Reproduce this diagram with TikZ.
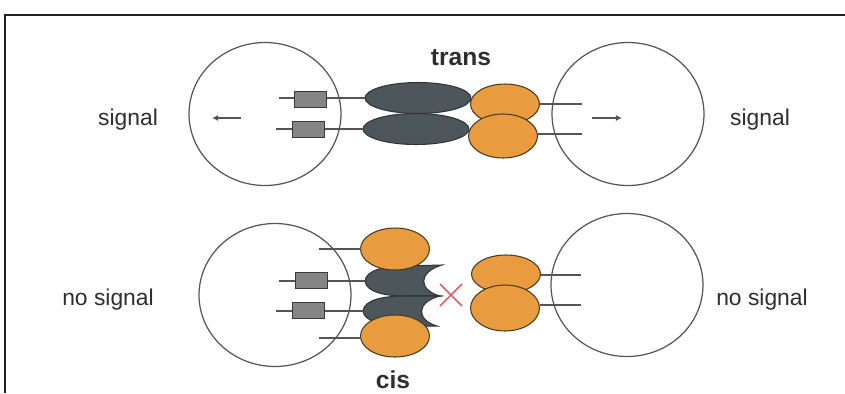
\documentclass[tikz,border=0pt]{standalone}
\usepackage{fontspec}
\setmainfont{Liberation Sans}
\usetikzlibrary{shapes.geometric, arrows.meta}

\begin{document}
\begin{tikzpicture}[
  x=0.02cm, y=-0.02cm,
  every node/.style={inner sep=0pt, outer sep=0pt},
  cell/.style={ellipse, draw=CellLine, line width=0.7pt, minimum width=3.04cm, minimum height=2.86cm},
  tail/.style={draw=TailLine, line width=0.7pt},
  kinase/.style={rectangle, draw=BoxLine, fill=BoxFill, line width=0.5pt, minimum width=0.64cm, minimum height=0.32cm},
  receptor/.style={ellipse, draw=RecLine, fill=RecFill, line width=0.6pt, minimum width=2.12cm, minimum height=0.62cm},
  cisrec/.style={draw=RecLine, fill=RecFill, line width=0.6pt},
  ligand/.style={ellipse, draw=LigLine, fill=LigFill, line width=0.6pt, minimum width=1.38cm},
  sigarrow/.style={draw=TailLine, line width=0.8pt, -{Latex[length=3.5pt, width=3.5pt]}},
  block/.style={draw=StopRed, line width=0.9pt},
  sigtext/.style={text=TextGray, font=\fontsize{13}{15}\selectfont},
  modetext/.style={text=TextGray, font=\fontsize{14}{16}\selectfont\bfseries},
]

% ── colors ──
\definecolor{CellLine}{HTML}{555555}
\definecolor{TailLine}{HTML}{555555}
\definecolor{BoxFill}{HTML}{858585}
\definecolor{BoxLine}{HTML}{3A3A3A}
\definecolor{RecFill}{HTML}{4D565B}
\definecolor{RecLine}{HTML}{2E3538}
\definecolor{LigFill}{HTML}{E89C3F}
\definecolor{LigLine}{HTML}{4A3A20}
\definecolor{TextGray}{HTML}{2E2E2E}
\definecolor{StopRed}{HTML}{D9606E}
\definecolor{Frame}{HTML}{222222}

\useasboundingbox (0,0) rectangle (845,393);
\draw[Frame, line width=1.1pt] (845,15) -- (5,15) -- (5,393);

% ── trans: receptor cell left, ligand cell right ──
\node[cell] (cellL) at (265,114) {};
\node[cell] (cellR) at (628,114) {};
\coordinate (aL0) at (241,118);
\coordinate (aL1) at (212,118);
\coordinate (aR0) at (592,118);
\coordinate (aR1) at (622,118);
\draw[sigarrow] (aL0) -- (aL1);
\draw[sigarrow] (aR0) -- (aR1);

\node[receptor] (recT1) at (418,98) {};
\node[receptor] (recT2) at (416,129) {};
\coordinate (tL1) at (279,98);
\coordinate (tL2) at (276,129);
\draw[tail] (tL1) -- (recT1.west);
\draw[tail] (tL2) -- (recT2.west);
\node[kinase] (boxT1) at (310,99) {};
\node[kinase] (boxT2) at (308,129) {};

\node[ligand, minimum height=0.80cm] (ligT1) at (505,104) {};
\node[ligand, minimum height=0.88cm] (ligT2) at (503,136) {};
\coordinate (tR1) at (582,104);
\coordinate (tR2) at (582,134);
\draw[tail] (ligT1.east) -- (tR1);
\draw[tail] (ligT2.east |- tR2) -- (tR2);

\node[sigtext] (sigL) at (128,120) {signal};
\node[sigtext] (sigR) at (760,120) {signal};
\node[modetext] (trans) at (461,58) {trans};

% ── cis: ligand sits on the receptor cell ──
\node[cell] (cellNL) at (275,295) {};
\node[cell] (cellNR) at (627,285) {};

\draw[cisrec] (442,265) -- (405,266) .. controls (385,266) and (366,270) .. (365,281)
  .. controls (366,292) and (385,296) .. (405,296) -- (440,296)
  .. controls (418,290) and (418,272) .. (442,265) -- cycle;
\draw[cisrec] (440,296) -- (405,296) .. controls (383,296) and (364,300) .. (363,311)
  .. controls (364,322) and (385,326) .. (405,326) -- (437,326)
  .. controls (416,320) and (416,302) .. (440,296) -- cycle;
\coordinate (cA) at (365,281);
\coordinate (cB) at (363,311);
\coordinate (tC1) at (279,281);
\coordinate (tC2) at (276,311);
\draw[tail] (tC1) -- (cA);
\draw[tail] (tC2) -- (cB);
\node[kinase] (boxC1) at (311,280) {};
\node[kinase] (boxC2) at (308,310) {};

\node[ligand, minimum height=0.84cm] (ligC1) at (395,249) {};
\node[ligand, minimum height=0.84cm] (ligC2) at (395,336) {};
\coordinate (tC0) at (319,249);
\coordinate (tC3) at (319,338);
\draw[tail] (tC0) -- (ligC1.west);
\draw[tail] (tC3) -- (tC3 -| ligC2.west);

\node[ligand, minimum height=0.76cm] (ligD1) at (506,274) {};
\node[ligand, minimum height=0.92cm] (ligD2) at (505,308) {};
\coordinate (tD1) at (581,275);
\coordinate (tD2) at (581,305);
\draw[tail] (ligD1.east |- tD1) -- (tD1);
\draw[tail] (ligD2.east |- tD2) -- (tD2);

\coordinate (stop) at (451,295);
\draw[block] (stop) +(-11,-11) -- +(11,11) (stop) +(-11,11) -- +(11,-11);

\node[sigtext] (nosigL) at (108,300) {no signal};
\node[sigtext] (nosigR) at (762,300) {no signal};
\node[modetext] (cis) at (393,380) {cis};

\end{tikzpicture}
\end{document}
